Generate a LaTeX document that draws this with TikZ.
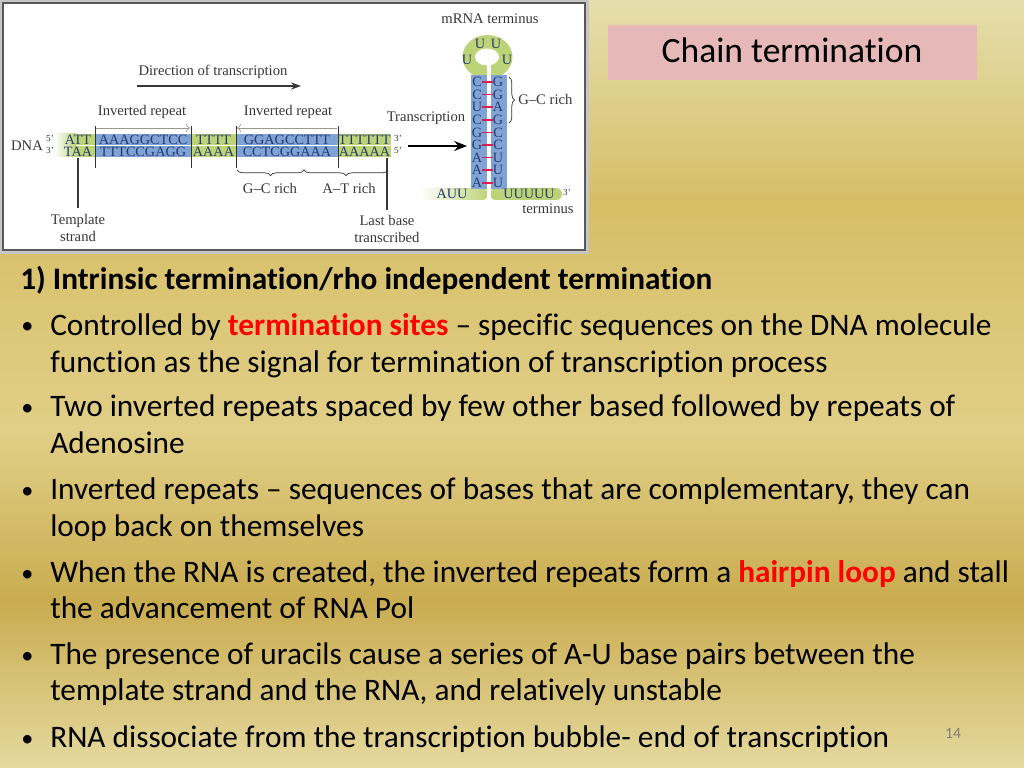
\documentclass[tikz,border=0pt]{standalone}
\usepackage{fontspec}
\setmainfont{Carlito}[Ligatures={TeX,NoCommon}]
\newfontfamily\figfont{Liberation Serif}[Ligatures=TeX]
\usetikzlibrary{arrows.meta,decorations.pathreplacing}

\definecolor{bgtop}{RGB}{229,222,172}
\definecolor{bggold}{RGB}{214,190,102}
\definecolor{bglight}{RGB}{225,207,135}
\definecolor{bgdark}{RGB}{201,172,80}
\definecolor{bgbot}{RGB}{229,217,158}
\definecolor{titlepink}{RGB}{230,185,184}
\definecolor{dnagreen}{RGB}{189,211,120}
\definecolor{dnablue}{RGB}{128,163,213}
\definecolor{basenavy}{RGB}{38,58,108}
\definecolor{figgray}{RGB}{55,55,55}
\definecolor{pairred}{RGB}{214,30,88}

\begin{document}
\begin{tikzpicture}[x=0.703125pt, y=-0.703125pt,
    bodytext/.style={anchor=base west, inner sep=0, font=\fontsize{22}{26}\selectfont},
    figlabel/.style={inner sep=0, text=figgray, align=center, font=\figfont\fontsize{10.3}{11.5}\selectfont},
    basetxt/.style={inner sep=0, text=basenavy, font=\figfont\fontsize{10}{12}\selectfont},
    primetxt/.style={inner sep=0, text=figgray, font=\figfont\fontsize{6.5}{7}\selectfont},
    tickline/.style={black!80, line width=0.6pt},
    pairbar/.style={pairred, line width=1.2pt}]
    \useasboundingbox (0,0) rectangle (1024,768);

    % slide background
    \shade[top color=bgtop, bottom color=bggold] (0,0) rectangle (1024,201);
    \shade[top color=bggold, bottom color=bglight] (0,200) rectangle (1024,431);
    \shade[top color=bglight, bottom color=bgdark] (0,430) rectangle (1024,601);
    \shade[top color=bgdark, bottom color=bgbot] (0,600) rectangle (1024,768);

    % title
    \fill[titlepink] (608,25) rectangle (977,80);
    \node[anchor=base, inner sep=0, font=\fontsize{25}{29}\selectfont] (title) at (792,63) {Chain termination};

    % figure frame
    \fill[gray!45] (0,0) rectangle (589,254);
    \draw[black!65, line width=1pt, fill=white] (3,3) rectangle (585,250);

    % DNA
    \node[figlabel] (dna) at (27,146) {DNA};
    \node[primetxt] (p5l) at (50,138) {5'};
    \node[primetxt] (p3l) at (50,150) {3'};
    \shade[left color=white, right color=dnagreen] (54,134) rectangle (76,145);
    \shade[left color=white, right color=dnagreen] (54,146) rectangle (76,157);
    \fill[dnagreen] (75,134) rectangle (95,145);
    \fill[dnagreen] (75,146) rectangle (95,157);
    \node[basetxt] (s0t) at (78,140) {ATT};
    \node[basetxt] (s0b) at (78,151.5) {TAA};
    \foreach \xa/\xb/\col/\up/\dn [count=\i] in {95/191/dnablue/AAAGGCTCC/TTTCCGAGG,
        191/236/dnagreen/TTTT/AAAA, 236/338/dnablue/GGAGCCTTT/CCTCGGAAA,
        338/391/dnagreen/TTTTTT/AAAAA} {
        \fill[\col] (\xa,134) rectangle (\xb,145);
        \fill[\col] (\xa,146) rectangle (\xb,157);
        \node[basetxt] (s\i t) at ({(\xa+\xb)/2},140) {\up};
        \node[basetxt] (s\i b) at ({(\xa+\xb)/2},151.5) {\dn};
    }
    \node[primetxt] (p3r) at (398,138) {3'};
    \node[primetxt] (p5r) at (398,150) {5'};

    \foreach \x in {95,191,236,338}
        \draw[tickline] (\x,126) -- (\x,168);

    % inverted repeats
    \node[figlabel] (ir1) at (142,112) {Inverted repeat};
    \node[figlabel] (ir2) at (288,112) {Inverted repeat};
    \coordinate (ir1s) at (96,128);
    \coordinate (ir1e) at (190,128);
    \coordinate (ir2s) at (337,128);
    \coordinate (ir2e) at (237,128);
    \draw[gray!80, line width=0.5pt, -{To[length=3pt]}] (ir1s) -- (ir1e);
    \draw[gray!80, line width=0.5pt, -{To[length=3pt]}] (ir2s) -- (ir2e);

    % direction of transcription
    \node[figlabel] (dirlab) at (213,72) {Direction of transcription};
    \coordinate (dirs) at (137,86);
    \coordinate (dire) at (301,86);
    \draw[figgray, line width=1.1pt, -{Stealth[length=7pt, width=5pt]}] (dirs) -- (dire);

    % braces under the strands
    \draw[figgray, line width=0.5pt, decorate, decoration={brace, mirror, amplitude=4pt}] (237,170) -- (304,170);
    \draw[figgray, line width=0.5pt, decorate, decoration={brace, mirror, amplitude=4pt}] (304,170) -- (388,170);
    \node[figlabel] (gcdna) at (270,188) {G–C rich};
    \node[figlabel] (atdna) at (349,188) {A–T rich};

    % template strand and last base
    \coordinate (tmpl) at (78,158);
    \coordinate (lastb) at (387,158);
    \node[figlabel] (tmpllab) at (78,228) {Template\\strand};
    \node[figlabel] (lastlab) at (387,229) {Last base\\transcribed};
    \draw[figgray, line width=0.8pt] (tmpl) -- (78,208);
    \draw[figgray, line width=0.8pt] (lastb) -- (387,210);

    % transcription arrow
    \node[figlabel] (trlab) at (426,118) {Transcription};
    \coordinate (trs) at (408,146);
    \coordinate (tre) at (467,146);
    \draw[black, line width=1.5pt, -{Stealth[length=9pt, width=7pt]}] (trs) -- (tre);

    % hairpin
    \node[figlabel] (mrna) at (490,19) {mRNA terminus};
    \fill[dnagreen] (487.5,57) ellipse [x radius=25, y radius=22];
    \fill[white] (487,57) ellipse [x radius=12, y radius=8.5];
    \shade[left color=white, right color=dnagreen, rounded corners=4pt] (420,188) rectangle (488,200);
    \fill[dnagreen, rounded corners=4pt] (490,188) rectangle (562,200);
    \fill[dnablue] (471,75) rectangle (487,189);
    \fill[dnablue] (491,75) rectangle (507,189);
    \fill[white] (486.5,60) rectangle (491,200);
    \foreach \l/\r [count=\i from 0] in {C/G,C/G,U/A,C/G,G/C,G/C,A/U,A/U,A/U} {
        \node[basetxt] (hl\i) at (477,{82+12.6*\i}) {\l};
        \node[basetxt] (hr\i) at (498,{82+12.6*\i}) {\r};
        \draw[pairbar] (hl\i.east) -- (hr\i.west);
    }
    \node[basetxt] (lu1) at (480,44) {U};
    \node[basetxt] (lu2) at (496,44) {U};
    \node[basetxt] (lu3) at (467,60) {U};
    \node[basetxt] (lu4) at (507,60) {U};
    \node[basetxt] (auu) at (452,194) {AUU};
    \node[basetxt] (uuu) at (529,194) {UUUUU};
    \node[primetxt] (p3h) at (567,192) {3'};
    \node[figlabel] (term) at (548,209) {terminus};
    \draw[figgray, line width=0.5pt, decorate, decoration={brace, amplitude=4pt}] (509,77) -- (509,123);
    \node[figlabel, anchor=west] (gchp) at (518,99) {G–C rich};

    % slide text
    \node[bodytext, font=\bfseries\fontsize{22}{26}\selectfont] (head) at (20,290) {1) Intrinsic termination/rho independent termination};
    \foreach \y in {335,416,499,582,664,747}
        \node[bodytext, font=\fontsize{17}{20}\selectfont] (dot\y) at (21,\y-1) {•};
    \node[bodytext] (b1a) at (50,335) {Controlled by \textcolor{red}{\bfseries termination sites} – specific sequences on the DNA molecule};
    \node[bodytext] (b1b) at (50,372) {function as the signal for termination of transcription process};
    \node[bodytext] (b2a) at (50,416) {Two inverted repeats spaced by few other based followed by repeats of};
    \node[bodytext] (b2b) at (50,453) {Adenosine};
    \node[bodytext] (b3a) at (50,499) {Inverted repeats – sequences of bases that are complementary, they can};
    \node[bodytext] (b3b) at (50,536) {loop back on themselves};
    \node[bodytext] (b4a) at (50,582) {When the RNA is created, the inverted repeats form a \textcolor{red}{\bfseries hairpin loop} and stall};
    \node[bodytext] (b4b) at (50,618) {the advancement of RNA Pol};
    \node[bodytext] (b5a) at (50,664) {The presence of uracils cause a series of A-U base pairs between the};
    \node[bodytext] (b5b) at (50,700) {template strand and the RNA, and relatively unstable};
    \node[bodytext] (b6a) at (50,747) {RNA dissociate from the transcription bubble- end of transcription};
    \node[inner sep=0, anchor=base, text=gray, font=\fontsize{11}{13}\selectfont] (pgnum) at (953,738) {14};
\end{tikzpicture}
\end{document}
